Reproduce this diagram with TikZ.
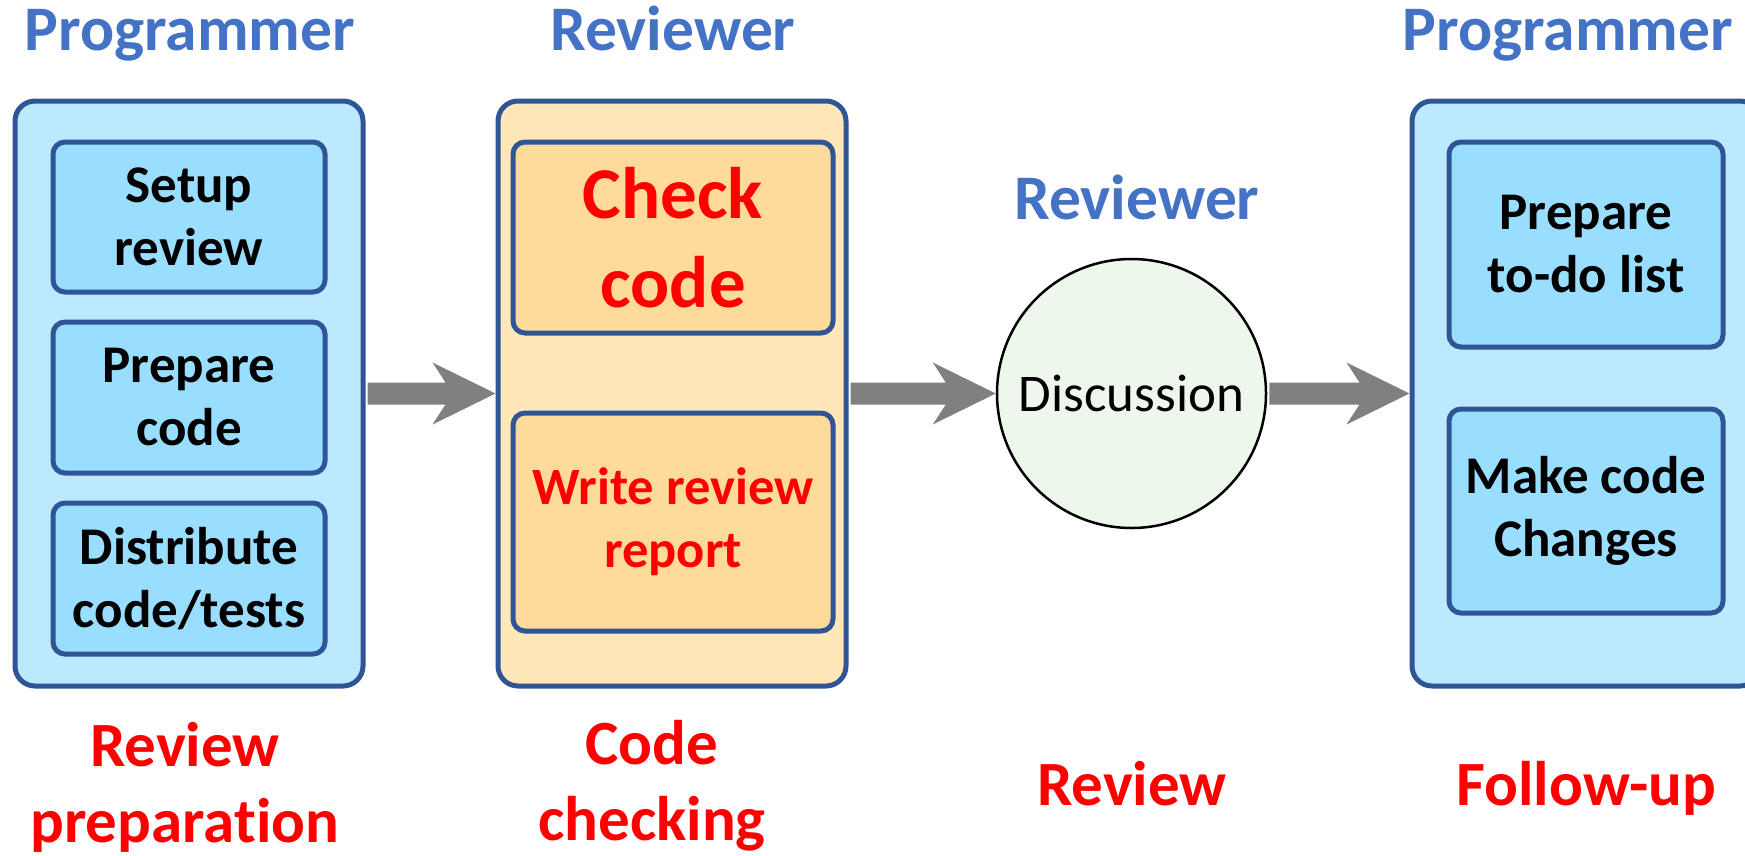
\documentclass[tikz,border=0pt]{standalone}
\usepackage{fontspec}
\setmainfont{Carlito}[Ligatures={NoCommon,NoContextual},Contextuals=NoAlternate]
\usetikzlibrary{calc}
\definecolor{ttl}{HTML}{4472C4}
\definecolor{bord}{HTML}{2F5597}
\definecolor{bluea}{HTML}{BDE9FF}
\definecolor{blueb}{HTML}{99DEFF}
\definecolor{orna}{HTML}{FFE7B9}
\definecolor{ornb}{HTML}{FEDB9A}
\definecolor{circfill}{HTML}{EEF7EC}
\definecolor{arrgray}{HTML}{808080}
\definecolor{redt}{HTML}{FF0000}
\newcommand\flowarrow[2]{%
  \fill[flow] ($(#1.east)+(2,-11)$) -- ($(#2.west)+(-50,-11)$) -- ($(#2.west)+(-63,-31)$)
    -- (#2.west) -- ($(#2.west)+(-63,31)$) -- ($(#2.west)+(-50,11)$)
    -- ($(#1.east)+(2,11)$) -- cycle;}
\begin{document}
\begin{tikzpicture}[x=1pt,y=-1pt,
  outerbox/.style={draw=bord,line width=5pt,rounded corners=20pt,minimum width=348pt,minimum height=585pt,inner sep=0pt},
  innerbox/.style={draw=bord,line width=5pt,rounded corners=12pt,inner sep=0pt,align=center},
  role/.style={text=ttl,font=\fontsize{63.5}{76}\selectfont\bfseries,anchor=base,inner sep=0pt},
  phase/.style={text=redt,font=\fontsize{63}{76}\selectfont\bfseries,align=center,inner sep=0pt},
  task/.style={innerbox,fill=blueb,font=\fontsize{53}{63}\selectfont\bfseries},
  redtask/.style={innerbox,fill=ornb,text=redt},
  flow/.style={fill=arrgray}
]
\useasboundingbox (0,0) rectangle (1745,855);
\clip (0,0) rectangle (1745,855);

% outer boxes
\node[outerbox,fill=bluea] (prep) at (189,393.5) {};
\node[outerbox,fill=orna] (check) at (672,393.5) {};
\node[outerbox,fill=bluea] (follow) at (1586,393.5) {};

% discussion
\node[circle,draw=black,line width=2.5pt,fill=circfill,minimum size=269pt,inner sep=0pt,
      font=\fontsize{53}{64}\selectfont] (disc) at (1131.5,393.5) {Discussion};

% inner tasks, left
\node[task,minimum width=272pt,minimum height=150pt] (setup) at (189,217) {Setup\\review};
\node[task,minimum width=272pt,minimum height=151pt] (prepcode) at (189,397.5) {Prepare\\code};
\node[task,minimum width=272pt,minimum height=151pt] (distr) at (189,578.5) {Distribute\\code/tests};

% inner tasks, middle
\node[redtask,minimum width=320pt,minimum height=191pt,font=\fontsize{73}{89}\selectfont\bfseries] (checkcode) at (673,237.5) {Check\\code};
\node[redtask,minimum width=320pt,minimum height=218pt,font=\fontsize{52.5}{63}\selectfont\bfseries] (report) at (673,522) {Write review\\report};

% inner tasks, right
\node[task,minimum width=274pt,minimum height=205pt] (todo) at (1586,244.5) {Prepare\\to-do list};
\node[task,minimum width=274pt,minimum height=204pt] (changes) at (1586,511) {Make code\\Changes};

% connectors
\flowarrow{prep}{check}
\flowarrow{check}{disc}
\flowarrow{disc}{follow}

% roles
\node[role] (r1) at (190,50) {Programmer};
\node[role] (r2) at (673,50) {Reviewer};
\node[role] (r3) at (1137,219) {Reviewer};
\node[role] (r4) at (1568,50) {Programmer};

% phases
\node[phase] (p1) at (185,787) {Review\\prepara\kern0pt tion};
\node[phase] (p2) at (652,786) {Code\\checking};
\node[phase,anchor=base] (p3) at (1132,805) {Review};
\node[phase,anchor=base] (p4) at (1586,805) {Follow-up};
\end{tikzpicture}
\end{document}
